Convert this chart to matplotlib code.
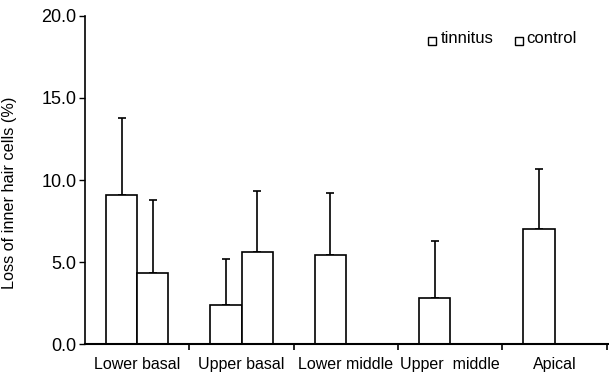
import numpy as np
import matplotlib
matplotlib.use("Agg")
import matplotlib.pyplot as plt

plt.rcParams['font.family'] = ['Liberation Sans', 'DejaVu Sans']

regions = ["Lower basal", "Upper basal", "Lower middle", "Upper  middle", "Apical"]
tinnitus = [9.1, 2.4, 5.4, 2.8, 7.0]
tinnitus_err = [4.7, 2.8, 3.8, 3.5, 3.7]
control = [4.3, 5.6, None, None, None]
control_err = [4.5, 3.7, None, None, None]

fig = plt.figure(figsize=(6.09, 3.79), dpi=100)
ax = fig.add_axes([0.1396, 0.0923, 0.860, 0.8655])

centers = np.arange(len(regions)) + 0.5
w = 0.3

ax.bar(centers - w / 2, tinnitus, width=w, color="white", edgecolor="black", linewidth=1.2, zorder=2)
ax.errorbar(centers - w / 2, tinnitus, yerr=[np.zeros(len(tinnitus)), tinnitus_err],
            fmt="none", ecolor="black", elinewidth=1.2, capsize=3, capthick=1.2, zorder=1)

cx = [c + w / 2 for c, v in zip(centers, control) if v is not None]
cv = [v for v in control if v is not None]
ce = [e for e in control_err if e is not None]
ax.bar(cx, cv, width=w, color="white", edgecolor="black", linewidth=1.2, zorder=2)
ax.errorbar(cx, cv, yerr=[np.zeros(len(cv)), ce], fmt="none", ecolor="black",
            elinewidth=1.2, capsize=3, capthick=1.2, zorder=1)

ax.set_xlim(0, 5.02)
ax.set_ylim(0, 20)
ax.set_yticks([0, 5, 10, 15, 20])
ax.set_yticklabels(["%.1f" % v for v in [0, 5, 10, 15, 20]], fontsize=13)
ax.set_xticks(centers)
ax.set_xticklabels(regions, fontsize=11.5)
ax.tick_params(axis="x", length=0, pad=9)
ax.set_xticks(np.arange(1, 6), minor=True)
ax.tick_params(axis="x", which="minor", length=4, width=1.2, direction="out")
ax.tick_params(axis="y", length=4, width=1, direction="out", pad=2)
ax.spines["top"].set_visible(False)
ax.spines["right"].set_visible(False)
ax.spines["left"].set_linewidth(1.2)
ax.spines["bottom"].set_linewidth(1.5)
ax.set_ylabel("Loss of inner hair cells (%)", fontsize=11.7)
ax.yaxis.set_label_coords(-0.13, 0.46)

# legend: small open squares followed by text
for lx, tx, lab in [(0.663, 0.680, "tinnitus"), (0.828, 0.842, "control")]:
    ax.plot([lx], [0.923], marker="s", markersize=6, markerfacecolor="white",
            markeredgecolor="black", markeredgewidth=1, transform=ax.transAxes, clip_on=False)
    ax.text(tx, 0.93, lab, transform=ax.transAxes, fontsize=12, va="center")

fig.savefig("out.png", dpi=100)
